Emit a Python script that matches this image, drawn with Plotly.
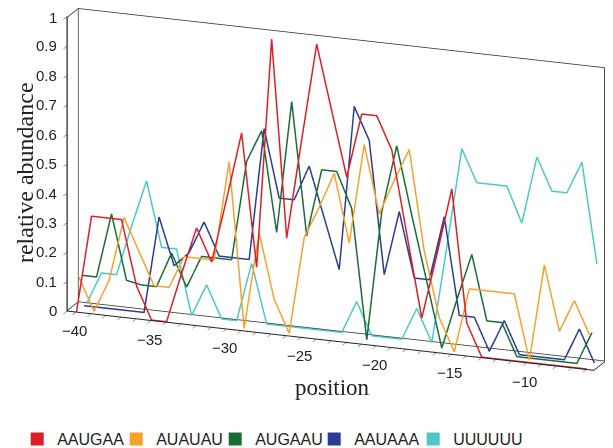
import plotly.graph_objects as go

positions = list(range(-40, -5))  # -40 .. -6

series_names = ["AAUGAA", "AUAUAU", "AUGAAU", "AAUAAA", "UUUUUU"]
series_colors = ["#dc1f26", "#f7a12c", "#1b6b35", "#2b3c96", "#4ec7c9"]

aaugaa = [0, 0.33, 0.33, 0.33, 0.11, 0, 0, 0.17, 0.33, 0.22,
          0.44, 0.67, 0.22, 1.0, 0.33, 0.67, 1.0, 0.78, 0.56, 0.78,
          0.78, 0.67, 0.39, 0.11, 0.33, 0.56, 0.11, 0, 0, 0,
          0, 0, 0, 0, 0]
auauau = [0.11, 0, 0.11, 0.33, 0.22, 0.11, 0.11, 0.22, 0.22, 0.22,
          0.56, 0, 0.33, 0.11, 0, 0.33, 0.44, 0.56, 0.33, 0.67,
          0.44, 0.56, 0.67, 0.33, 0.11, 0, 0.22, 0.22, 0.22, 0.22,
          0, 0.33, 0.11, 0.22, 0.11]
augaau = [0.11, 0.11, 0.33, 0.11, 0.1, 0.1, 0.22, 0.11, 0.22, 0.22,
          0.22, 0.56, 0.67, 0.33, 0.78, 0.33, 0.56, 0.56, 0.44, 0,
          0.44, 0.67, 0.44, 0.22, 0, 0.17, 0.33, 0.11, 0.11, 0,
          0, 0, 0, 0, 0.11]
aauaaa = [0, 0, 0, 0, 0, 0.33, 0.17, 0.22, 0.33, 0.22,
          0.22, 0.22, 0.67, 0.44, 0.44, 0.56, 0.39, 0.22, 0.78, 0.67,
          0.22, 0.44, 0.22, 0.22, 0.44, 0.11, 0.11, 0, 0.11, 0,
          0, 0, 0, 0.11, 0]
uuuuuu = [0, 0.11, 0.11, 0.28, 0.44, 0.22, 0.22, 0, 0.11, 0,
          0, 0.2, 0, 0, 0, 0, 0, 0, 0.11, 0,
          0, 0, 0.11, 0, 0.33, 0.67, 0.56, 0.56, 0.56, 0.44,
          0.67, 0.56, 0.56, 0.67, 0.33]

all_series = [aaugaa, auauau, augaau, aauaaa, uuuuuu]

x_tick_vals = list(range(-40, -5))
x_label_vals = [-40, -35, -30, -25, -20, -15, -10]
z_tick_vals = [i / 10 for i in range(11)]
z_tick_text = ["0", "0.1", "0.2", "0.3", "0.4", "0.5", "0.6", "0.7", "0.8", "0.9", "1"]

x_range = [-40.6, -5.5]
y_range = [-0.2, 4.2]
z_range = [0, 1]

fig = go.Figure()

for depth, (name, color, vals) in enumerate(zip(series_names, series_colors, all_series)):
    fig.add_trace(go.Scatter3d(
        x=positions, y=[depth] * len(positions), z=vals,
        mode="lines", line=dict(color=color, width=3),
        name=name, showlegend=False, hoverinfo="skip"))

# wall outlines (back wall, left wall edges), kept just inside the axis ranges
eps = 2e-3
x0, x1 = x_range[0] + eps * 10, x_range[1] - eps * 10
y0, y1 = y_range[0] + eps * 10, y_range[1] - eps * 10
za, zb = z_range[0] + eps, z_range[1] - eps
frame_color = "#333333"
fig.add_trace(go.Scatter3d(
    x=[x0, x1, x1, x0, x0, x0, x0, x0], y=[y1, y1, y1, y1, y1, y0, y0, y1],
    z=[za, za, zb, zb, za, za, zb, zb],
    mode="lines", line=dict(color=frame_color, width=1.6), showlegend=False, hoverinfo="skip"))

# legend entries with square swatches
for name, color in zip(series_names, series_colors):
    fig.add_trace(go.Scatter(x=[None], y=[None], mode="markers",
                             marker=dict(symbol="square", size=13, color=color),
                             name=name))
# blank spacer so the last legend label is not clipped
fig.add_trace(go.Scatter(x=[None], y=[None], mode="markers",
                         marker=dict(symbol="square", size=1, color="rgba(0,0,0,0)"),
                         name=" "))

tick_font = dict(family="Liberation Sans, Arial", size=15, color="#222222")
scene_annotations = []
for v in x_label_vals:
    scene_annotations.append(dict(x=v, y=y0, z=za, text="\u2212" + str(abs(v)), showarrow=False,
                                  xanchor="center", yanchor="top", yshift=-9, xshift=-2,
                                  font=tick_font))
for v, t in zip(z_tick_vals, z_tick_text):
    scene_annotations.append(dict(x=x0, y=y0, z=min(max(v, za), zb), text=t,
                                  showarrow=False, xanchor="right", yanchor="middle", xshift=-8,
                                  font=tick_font))

axis_common = dict(showgrid=False, zeroline=False, showbackground=False,
                   showspikes=False, showline=True, linecolor="#222222", linewidth=2,
                   showticklabels=False, title=dict(text=""))

fig.update_layout(
    width=613, height=448,
    margin=dict(l=0, r=0, t=0, b=0),
    paper_bgcolor="white", plot_bgcolor="white",
    font=dict(family="Liberation Sans, Arial", color="#222222"),
    xaxis=dict(visible=False), yaxis=dict(visible=False),
    showlegend=True,
    legend=dict(orientation="h", x=0.015, xanchor="left", y=0.0, yanchor="bottom",
                font=dict(size=16, family="Liberation Sans, Arial", color="#222222"),
                itemwidth=30, tracegroupgap=0, entrywidth=54, entrywidthmode="pixels"),
    annotations=[
        dict(xref="paper", yref="paper", x=0.53, y=0.152, text="position", showarrow=False,
             xanchor="center", yanchor="middle",
             font=dict(family="Liberation Serif, Times New Roman", size=23, color="#222222")),
        dict(xref="paper", yref="paper", x=0.028, y=0.632, text="relative abundance",
             showarrow=False, textangle=-90, xanchor="center", yanchor="middle",
             font=dict(family="Liberation Serif, Times New Roman", size=24, color="#222222")),
    ],
    scene=dict(
        domain=dict(x=[0, 1], y=[0.07, 1]),
        aspectmode="manual",
        aspectratio=dict(x=2.70, y=0.15, z=1.48),
        camera=dict(eye=dict(x=0.71, y=-2.18, z=0.58), center=dict(x=-0.11, y=0, z=-0.15),
                    up=dict(x=0, y=0, z=1), projection=dict(type="orthographic")),
        xaxis=dict(axis_common, range=x_range, tickvals=x_tick_vals,
                   ticks="outside", ticklen=5, tickcolor="#222222"),
        yaxis=dict(axis_common, range=y_range, ticks=""),
        zaxis=dict(axis_common, range=z_range, tickvals=z_tick_vals,
                   ticks="outside", ticklen=5, tickcolor="#222222"),
        annotations=scene_annotations,
    ),
)

fig.write_html("out.html")
